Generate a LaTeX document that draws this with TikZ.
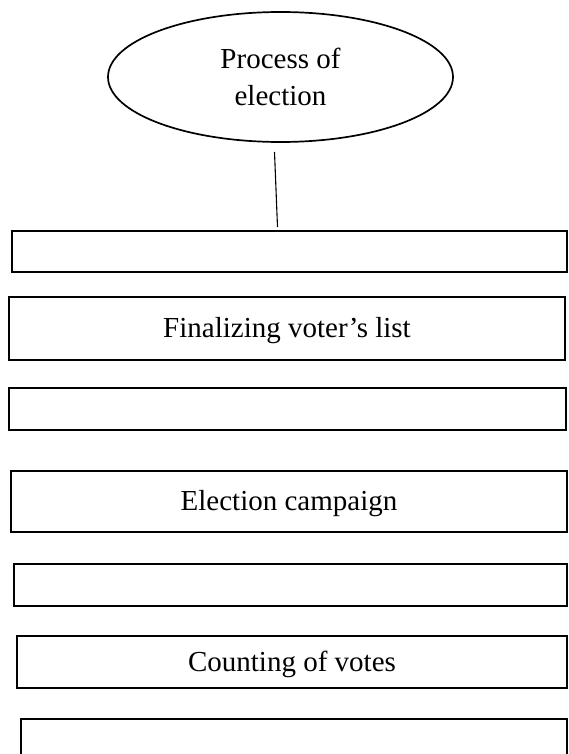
\documentclass[tikz,border=0pt]{standalone}
\usepackage{fontspec}
\setmainfont{Liberation Serif}
\usetikzlibrary{shapes.geometric}
\begin{document}
\begin{tikzpicture}[x=1pt,y=-1pt,
  stepbox/.style={draw=black, line width=2pt, rectangle, inner sep=0pt,
    text height=20pt, text depth=2pt, font=\fontsize{29}{36.5}\selectfont},
  oval/.style={draw=black, line width=1.7pt, ellipse, inner sep=0pt,
    align=center, font=\fontsize{29}{36.5}\selectfont},
  link/.style={draw=black, line width=1.1pt}]
\useasboundingbox (0,0) rectangle (568,754);
\clip (0,0) rectangle (568,754);
\fill[white] (0,0) rectangle (568,754);

\node[oval, minimum width=345pt, minimum height=130pt] (top) at (280.5,77) {Process of\\election};

\node[stepbox, minimum width=555pt, minimum height=41pt] (b1) at (289.5,251.5) {};
\node[stepbox, minimum width=556pt, minimum height=63pt] (b2) at (287,328.5) {Finalizing voter’s list};
\node[stepbox, minimum width=557pt, minimum height=42pt] (b3) at (287.5,409) {};
\node[stepbox, minimum width=556pt, minimum height=61pt] (b4) at (289,501.5) {Election campaign};
\node[stepbox, minimum width=553pt, minimum height=42pt] (b5) at (290.5,585) {};
\node[stepbox, minimum width=550pt, minimum height=52pt] (b6) at (292,662) {Counting of votes};
\node[stepbox, minimum width=546pt, minimum height=81pt] (b7) at (294,759.5) {};

\coordinate (ct) at (274.5,152);
\coordinate (cb) at (277.5,227);
\draw[link] (ct) -- (cb);
\end{tikzpicture}
\end{document}
